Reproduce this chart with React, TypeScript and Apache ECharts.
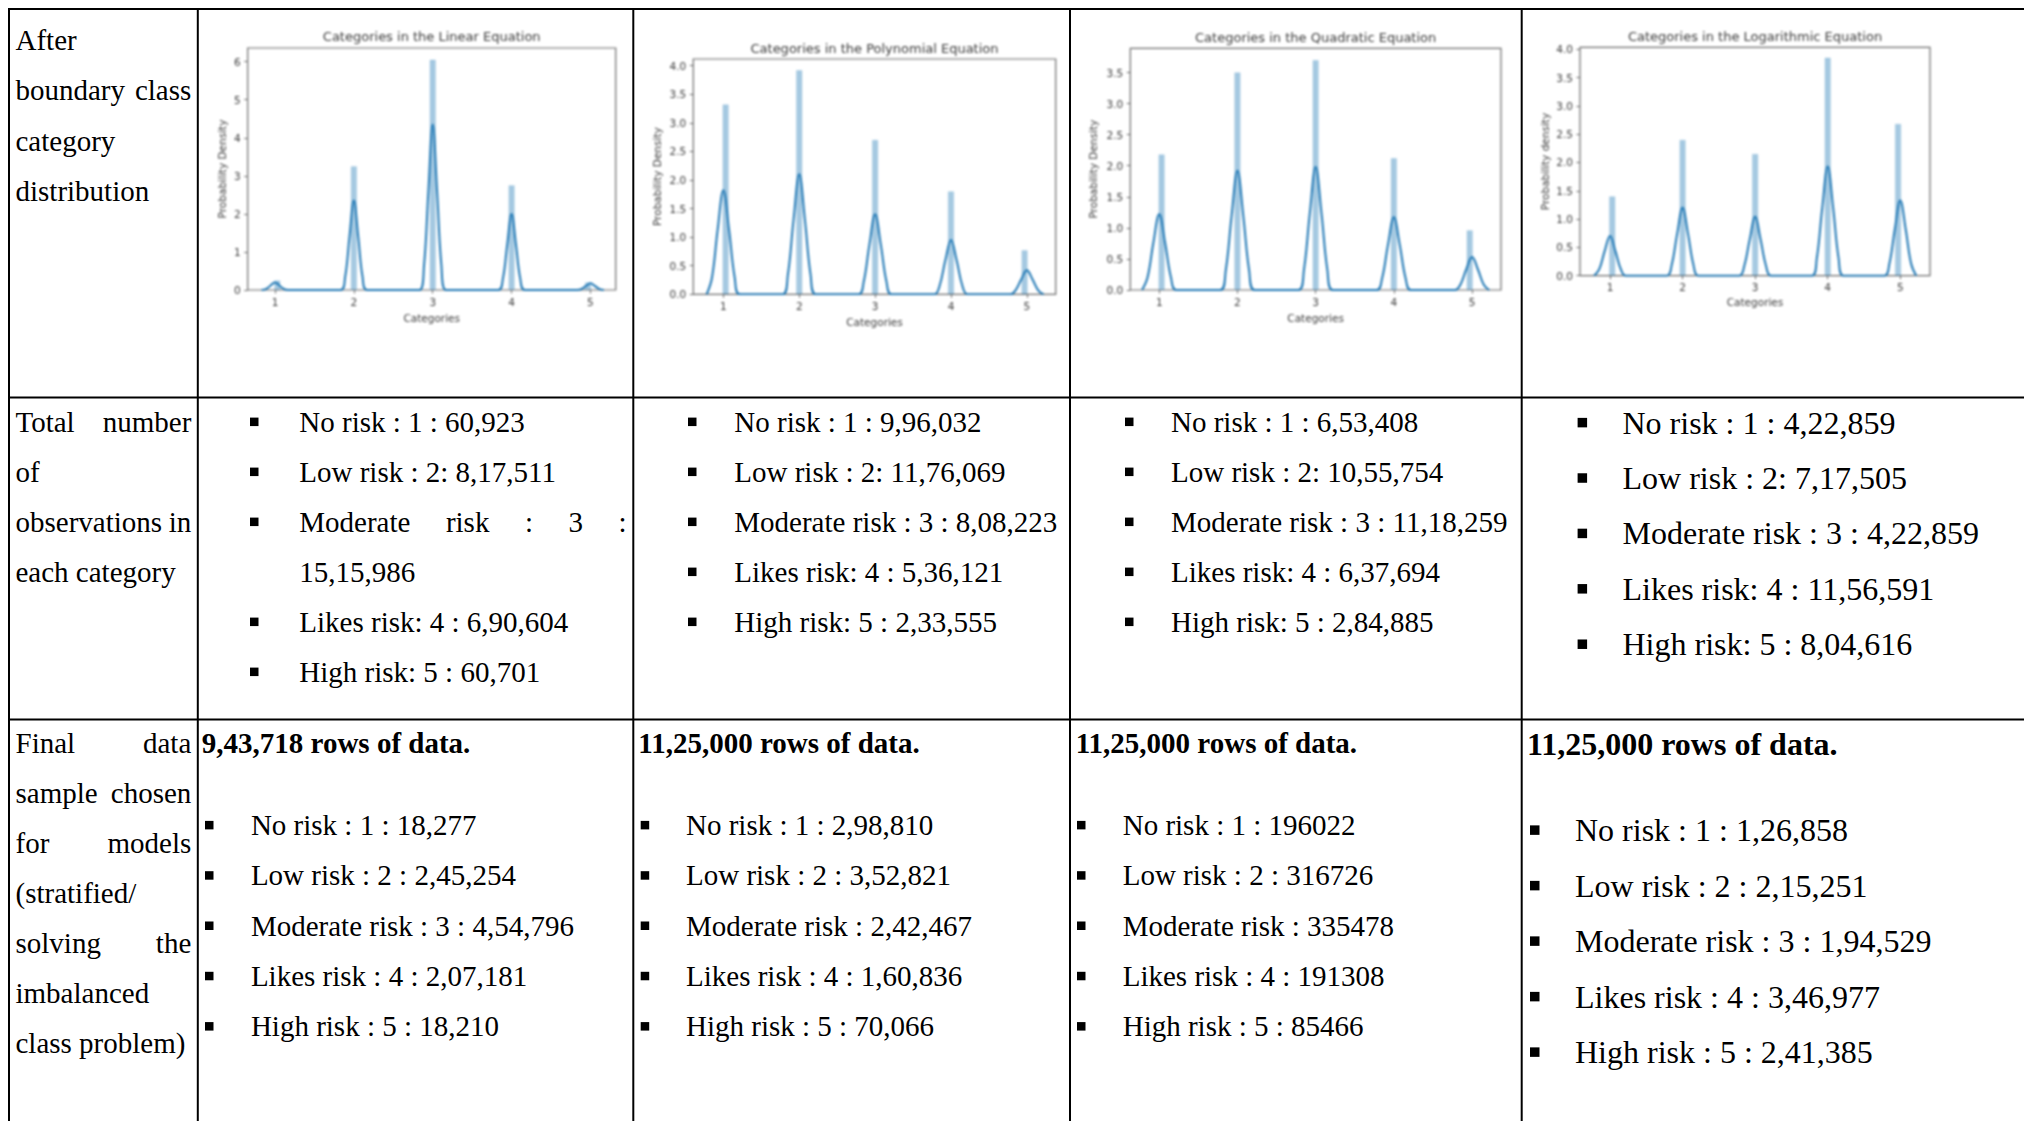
import React, { useEffect, useRef } from "react";
import * as echarts from "echarts";

// ---------- distribution plots (seaborn-style histogram + KDE) ----------
const CATEGORY_TICKS = [1, 2, 3, 4, 5];
const BIN_POSITIONS = [1.03, 2, 3, 4, 4.97];

const LINEAR_DENSITY = [0.25, 3.25, 6.05, 2.75, 0.2];
const POLYNOMIAL_DENSITY = [3.32, 3.92, 2.7, 1.8, 0.77];
const QUADRATIC_DENSITY = [2.18, 3.5, 3.7, 2.12, 0.96];
const LOGARITHMIC_DENSITY = [1.4, 2.4, 2.15, 3.85, 2.68];

const LINEAR_KDE = [
  [0.83, 0], [0.89, 0.03], [0.945, 0.12], [1, 0.2], [1.055, 0.12], [1.11, 0.03], [1.17, 0],
  [1.83, 0], [1.89, 0.35], [1.945, 1.41], [2, 2.35], [2.055, 1.41], [2.11, 0.35], [2.17, 0],
  [2.83, 0], [2.89, 0.65], [2.945, 2.6], [3, 4.35], [3.055, 2.6], [3.11, 0.65], [3.17, 0],
  [3.83, 0], [3.89, 0.3], [3.945, 1.2], [4, 2.0], [4.055, 1.2], [4.11, 0.3], [4.17, 0],
  [4.83, 0], [4.89, 0.03], [4.945, 0.11], [5, 0.18], [5.055, 0.11], [5.11, 0.03], [5.17, 0],
];
const POLYNOMIAL_KDE = [
  [0.78, 0], [0.85, 0.29], [0.925, 1.13], [1, 1.82], [1.075, 1.13], [1.15, 0.29], [1.22, 0],
  [1.78, 0], [1.85, 0.34], [1.925, 1.3], [2, 2.1], [2.075, 1.3], [2.15, 0.34], [2.22, 0],
  [2.78, 0], [2.85, 0.22], [2.925, 0.87], [3, 1.4], [3.075, 0.87], [3.15, 0.22], [3.22, 0],
  [3.78, 0], [3.85, 0.15], [3.925, 0.59], [4, 0.95], [4.075, 0.59], [4.15, 0.15], [4.22, 0],
  [4.78, 0], [4.85, 0.07], [4.925, 0.26], [5, 0.42], [5.075, 0.26], [5.15, 0.07], [5.22, 0],
];
const QUADRATIC_KDE = [
  [0.78, 0], [0.85, 0.2], [0.925, 0.76], [1, 1.22], [1.075, 0.76], [1.15, 0.2], [1.22, 0],
  [1.78, 0], [1.85, 0.31], [1.925, 1.19], [2, 1.92], [2.075, 1.19], [2.15, 0.31], [2.22, 0],
  [2.78, 0], [2.85, 0.32], [2.925, 1.23], [3, 1.98], [3.075, 1.23], [3.15, 0.32], [3.22, 0],
  [3.78, 0], [3.85, 0.19], [3.925, 0.73], [4, 1.17], [4.075, 0.73], [4.15, 0.19], [4.22, 0],
  [4.78, 0], [4.85, 0.085], [4.925, 0.33], [5, 0.53], [5.075, 0.33], [5.15, 0.085], [5.22, 0],
];
const LOGARITHMIC_KDE = [
  [0.78, 0], [0.85, 0.11], [0.925, 0.43], [1, 0.7], [1.075, 0.43], [1.15, 0.11], [1.22, 0],
  [1.78, 0], [1.85, 0.19], [1.925, 0.74], [2, 1.2], [2.075, 0.74], [2.15, 0.19], [2.22, 0],
  [2.78, 0], [2.85, 0.17], [2.925, 0.64], [3, 1.04], [3.075, 0.64], [3.15, 0.17], [3.22, 0],
  [3.78, 0], [3.85, 0.31], [3.925, 1.2], [4, 1.93], [4.075, 1.2], [4.15, 0.31], [4.22, 0],
  [4.78, 0], [4.85, 0.21], [4.925, 0.82], [5, 1.33], [5.075, 0.82], [5.15, 0.21], [5.22, 0],
];

const LINEAR_Y_TICKS = [0, 1, 2, 3, 4, 5, 6];
const FOUR_Y_TICKS = [0, 0.5, 1, 1.5, 2, 2.5, 3, 3.5, 4];
const QUADRATIC_Y_TICKS = [0, 0.5, 1, 1.5, 2, 2.5, 3, 3.5];

const PANEL_TITLES = [
  "Categories in the Linear Equation",
  "Categories in the Polynomial Equation",
  "Categories in the Quadratic Equation",
  "Categories in the Logarithmic Equation",
];
const Y_NAMES = ["Probability Density", "Probability Density", "Probability Density", "Probability density"];
const X_NAME = "Categories";

// ---------- table text ----------
const HEAD_DISTRIBUTION = ["After", "boundary class", "category", "distribution"];
const HEAD_TOTALS = ["Total number", "of", "observations in", "each category"];
const HEAD_SAMPLE = ["Final data", "sample chosen", "for models", "(stratified/", "solving the", "imbalanced", "class problem)"];

const LINEAR_TOTALS = ["No risk : 1 : 60,923", "Low risk : 2: 8,17,511", "Moderate risk : 3 : 15,15,986", "Likes risk: 4 : 6,90,604", "High risk: 5 : 60,701"];
const POLYNOMIAL_TOTALS = ["No risk : 1 : 9,96,032", "Low risk : 2: 11,76,069", "Moderate risk : 3 : 8,08,223", "Likes risk: 4 : 5,36,121", "High risk: 5 : 2,33,555"];
const QUADRATIC_TOTALS = ["No risk : 1 : 6,53,408", "Low risk : 2: 10,55,754", "Moderate risk : 3 : 11,18,259", "Likes risk: 4 : 6,37,694", "High risk: 5 : 2,84,885"];
const LOGARITHMIC_TOTALS = ["No risk : 1 : 4,22,859", "Low risk : 2: 7,17,505", "Moderate risk : 3 : 4,22,859", "Likes risk: 4 : 11,56,591", "High risk: 5 : 8,04,616"];

const SAMPLE_SIZES = ["9,43,718 rows of data.", "11,25,000 rows of data.", "11,25,000 rows of data.", "11,25,000 rows of data."];
const LINEAR_SAMPLE = ["No risk : 1 : 18,277", "Low risk : 2 : 2,45,254", "Moderate risk : 3 : 4,54,796", "Likes risk : 4 : 2,07,181", "High risk : 5 : 18,210"];
const POLYNOMIAL_SAMPLE = ["No risk : 1 : 2,98,810", "Low risk : 2 : 3,52,821", "Moderate risk : 2,42,467", "Likes risk : 4 : 1,60,836", "High risk : 5 : 70,066"];
const QUADRATIC_SAMPLE = ["No risk : 1 : 196022", "Low risk : 2 : 316726", "Moderate risk : 335478", "Likes risk : 4 : 191308", "High risk : 5 : 85466"];
const LOGARITHMIC_SAMPLE = ["No risk : 1 : 1,26,858", "Low risk : 2 : 2,15,251", "Moderate risk : 3 : 1,94,529", "Likes risk : 4 : 3,46,977", "High risk : 5 : 2,41,385"];

// ---------- styling / layout ----------
const SERIF = '"Liberation Serif", "Times New Roman", serif';
const SANS = '"DejaVu Sans", sans-serif';
const INK = "#3a3a3a";
const SPINE = "#6a6a6a";
const BAR_FILL = "rgba(31,119,180,0.4)";
const KDE_COLOR = "#1f77b4";

const PANELS = [
  { density: LINEAR_DENSITY, kde: LINEAR_KDE, yTicks: LINEAR_Y_TICKS, digits: 0, box: [247.7, 48, 615.7, 290], xMin: 0.654, xMax: 5.32, yMax: 6.36, titleY: 36.7, yNameX: 221.7, xNameY: 318 },
  { density: POLYNOMIAL_DENSITY, kde: POLYNOMIAL_KDE, yTicks: FOUR_Y_TICKS, digits: 1, box: [693.3, 59, 1055.7, 294.3], xMin: 0.604, xMax: 5.38, yMax: 4.117, titleY: 48.3, yNameX: 656.7, xNameY: 321.7 },
  { density: QUADRATIC_DENSITY, kde: QUADRATIC_KDE, yTicks: QUADRATIC_Y_TICKS, digits: 1, box: [1130.3, 48.3, 1501, 290], xMin: 0.63, xMax: 5.37, yMax: 3.89, titleY: 37.7, yNameX: 1092.7, xNameY: 318.3 },
  { density: LOGARITHMIC_DENSITY, kde: LOGARITHMIC_KDE, yTicks: FOUR_Y_TICKS, digits: 1, box: [1580, 47.3, 1930, 275.7], xMin: 0.586, xMax: 5.41, yMax: 4.035, titleY: 36.7, yNameX: 1545, xNameY: 302.3 },
];

function buildPlotsOption(): any {
  const grid: any[] = [];
  const xAxis: any[] = [];
  const yAxis: any[] = [];
  const series: any[] = [];
  const graphic: any[] = [];

  PANELS.forEach((p, i) => {
    const [l, t, r, b] = p.box;
    grid.push({
      left: l, top: t, width: r - l, height: b - t,
      show: true, borderColor: SPINE, borderWidth: 1.2, backgroundColor: "transparent",
      containLabel: false, outerBoundsMode: "none",
    });
    const labelStyle = { color: INK, fontSize: 10.5, fontFamily: SANS };
    xAxis.push({
      type: "value", gridIndex: i, min: p.xMin, max: p.xMax,
      axisLine: { show: false },
      axisTick: { show: true, customValues: CATEGORY_TICKS, length: 3.5, lineStyle: { color: SPINE, width: 1 } },
      axisLabel: { ...labelStyle, customValues: CATEGORY_TICKS, margin: 6 },
      splitLine: { show: false },
    });
    yAxis.push({
      type: "value", gridIndex: i, min: 0, max: p.yMax,
      axisLine: { show: false },
      axisTick: { show: true, customValues: p.yTicks, length: 3.5, lineStyle: { color: SPINE, width: 1 } },
      axisLabel: { ...labelStyle, customValues: p.yTicks, margin: 7, formatter: (v: number) => v.toFixed(p.digits) },
      splitLine: { show: false },
    });
    series.push({
      type: "bar", xAxisIndex: i, yAxisIndex: i, silent: true,
      data: BIN_POSITIONS.map((x, k) => [x, p.density[k]]),
      barWidth: 6,
      itemStyle: { color: BAR_FILL, borderColor: "rgba(31,119,180,0.25)", borderWidth: 0.6 },
      z: 2,
    });
    series.push({
      type: "line", xAxisIndex: i, yAxisIndex: i, silent: true,
      data: p.kde, showSymbol: false, smooth: 0.4,
      lineStyle: { color: KDE_COLOR, width: 2 },
      z: 3,
    });
    const cx = (l + r) / 2;
    const cy = (t + b) / 2;
    graphic.push(
      { type: "text", x: cx, y: p.titleY, silent: true,
        style: { text: PANEL_TITLES[i], fill: INK, fontSize: 13, fontFamily: SANS, align: "center", verticalAlign: "middle" } },
      { type: "text", x: p.yNameX, y: cy, rotation: Math.PI / 2, silent: true,
        style: { text: Y_NAMES[i], fill: INK, fontSize: 10.5, fontFamily: SANS, align: "center", verticalAlign: "middle" } },
      { type: "text", x: cx, y: p.xNameY, silent: true,
        style: { text: X_NAME, fill: INK, fontSize: 10.5, fontFamily: SANS, align: "center", verticalAlign: "middle" } },
    );
  });

  return { animation: false, backgroundColor: "transparent", grid, xAxis, yAxis, series, graphic };
}

// ---------- table drawing ----------
function buildTableOption(): any {
  const ctx = document.createElement("canvas").getContext("2d") as CanvasRenderingContext2D;
  const width = (s: string, size: number, bold = false) => {
    ctx.font = `${bold ? "bold " : ""}${size}px "Liberation Serif"`;
    return ctx.measureText(s).width;
  };
  const els: any[] = [];

  const text = (s: string, x: number, baseline: number, size: number, bold = false, align = "left") => {
    els.push({
      type: "text", x, y: baseline - size * 0.34, silent: true,
      style: { text: s, fill: "#000", fontFamily: SERIF, fontSize: size, fontWeight: bold ? "bold" : "normal", align, verticalAlign: "middle" },
    });
  };

  // draw a line of words spread across [x0, x1]
  const justify = (line: string, x0: number, x1: number, baseline: number, size: number) => {
    const words = line.split(" ");
    if (words.length < 2) { text(line, x0, baseline, size); return; }
    const ws = words.map((w) => width(w, size));
    const gap = (x1 - x0 - ws.reduce((a, c) => a + c, 0)) / (words.length - 1);
    let x = x0;
    words.forEach((w, k) => { text(w, x, baseline, size); x += ws[k] + gap; });
  };

  const wrap = (s: string, size: number, avail: number) => {
    const words = s.split(" ");
    const lines: string[] = [];
    let cur = "";
    words.forEach((w) => {
      const next = cur ? cur + " " + w : w;
      if (cur && width(next, size) > avail) { lines.push(cur); cur = w; } else cur = next;
    });
    if (cur) lines.push(cur);
    return lines;
  };

  const headColumn = (lines: string[], first: number, step: number) => {
    lines.forEach((ln, k) => {
      const y = first + k * step;
      if (k < lines.length - 1 && ln.includes(" ")) justify(ln, 15.5, 191.3, y, 29);
      else text(ln, 15.5, y, 29);
    });
  };

  const bulletList = (items: string[], bulletX: number, textX: number, right: number, first: number, step: number, size: number) => {
    let row = 0;
    const sq = size === 29 ? 8.5 : 9.5;
    items.forEach((item) => {
      const lines = wrap(item, size, right - textX);
      lines.forEach((ln, k) => {
        const y = first + row * step;
        if (k === 0) {
          els.push({ type: "rect", silent: true, shape: { x: bulletX, y: y - size * 0.34 - sq / 2, width: sq, height: sq }, style: { fill: "#000" } });
        }
        if (k < lines.length - 1) justify(ln, textX, right, y, size);
        else text(ln, textX, y, size);
        row++;
      });
    });
  };

  // row headers
  headColumn(HEAD_DISTRIBUTION, 50, 50.3);
  headColumn(HEAD_TOTALS, 431.7, 50);
  headColumn(HEAD_SAMPLE, 753.3, 50);

  // observation counts per category
  bulletList(LINEAR_TOTALS, 250, 299.3, 626.5, 431.7, 50, 29);
  bulletList(POLYNOMIAL_TOTALS, 688, 734.3, 1064, 431.7, 50, 29);
  bulletList(QUADRATIC_TOTALS, 1125, 1171, 1515, 431.7, 50, 29);
  bulletList(LOGARITHMIC_TOTALS, 1577.6, 1622.5, 2020, 433.5, 55.4, 32);

  // final samples
  text(SAMPLE_SIZES[0], 201.8, 753.3, 29, true);
  text(SAMPLE_SIZES[1], 638.3, 753.3, 29, true);
  text(SAMPLE_SIZES[2], 1075.7, 753.3, 29, true);
  text(SAMPLE_SIZES[3], 1527, 755, 32, true);
  bulletList(LINEAR_SAMPLE, 205, 250.9, 626.5, 835, 50.3, 29);
  bulletList(POLYNOMIAL_SAMPLE, 640.7, 686, 1064, 835, 50.3, 29);
  bulletList(QUADRATIC_SAMPLE, 1077, 1122.7, 1515, 835, 50.3, 29);
  bulletList(LOGARITHMIC_SAMPLE, 1530, 1575, 2020, 841, 55.5, 32);

  // grid lines
  const rule = { stroke: "#000", lineWidth: 2 };
  [9, 397.5, 719.5].forEach((y) => els.push({ type: "line", silent: true, shape: { x1: 8, y1: y, x2: 2024, y2: y }, style: rule }));
  [9, 197.8, 633.3, 1070, 1521.7].forEach((x) => els.push({ type: "line", silent: true, shape: { x1: x, y1: 8, x2: x, y2: 1121 }, style: rule }));

  return { animation: false, backgroundColor: "#fff", graphic: { elements: els } };
}

export default function App() {
  const tableRef = useRef<HTMLDivElement>(null);
  const plotsRef = useRef<HTMLDivElement>(null);

  useEffect(() => {
    const table = echarts.init(tableRef.current as HTMLDivElement, null, { renderer: "svg" });
    table.setOption(buildTableOption());
    const plots = echarts.init(plotsRef.current as HTMLDivElement, null, { renderer: "svg" });
    plots.setOption(buildPlotsOption());
    return () => {
      plots.dispose();
      table.dispose();
    };
  }, []);

  return (
    <div style={{ position: "absolute", left: 0, top: 0, width: 2024, height: 1121, background: "#fff", overflow: "hidden" }}>
      <div ref={tableRef} style={{ position: "absolute", left: 0, top: 0, width: 2024, height: 1121 }} />
      <div ref={plotsRef} style={{ position: "absolute", left: 0, top: 0, width: 2024, height: 400, filter: "blur(0.9px)" }} />
    </div>
  );
}
